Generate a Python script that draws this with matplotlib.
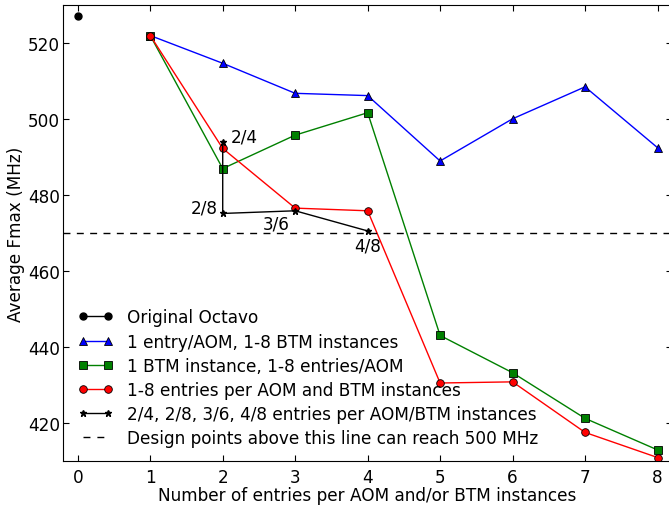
import matplotlib
matplotlib.use("Agg")
import matplotlib.pyplot as plt
from matplotlib.lines import Line2D
from matplotlib.legend_handler import HandlerLine2D

# values
entries = [1, 2, 3, 4, 5, 6, 7, 8]
original_x = [0]
original_fmax = [527.2]
one_entry_fmax = [522.0, 514.7, 506.8, 506.2, 489.0, 500.1, 508.5, 492.5]
one_btm_fmax = [522.0, 487.0, 495.8, 501.7, 443.1, 433.3, 421.3, 413.0]
both_fmax = [522.0, 492.3, 476.6, 475.9, 430.6, 430.9, 417.6, 411.0]
combo_x = [2, 2, 3, 4]
combo_fmax = [494.1, 475.2, 475.9, 470.6]
combo_labels = ["2/4", "2/8", "3/6", "4/8"]
target_fmax = 470

FS = 12.2

fig = plt.figure(figsize=(6.69, 5.10), dpi=100)
ax = fig.add_axes([0.0946, 0.0935, 0.9099, 0.8945])

ax.plot(original_x, original_fmax, color="black", marker="o", markersize=5,
        linewidth=1, label="Original Octavo")
ax.plot(entries, one_entry_fmax, color="blue", marker="^", markersize=5.5,
        markeredgecolor="black", markeredgewidth=0.6, linewidth=1,
        label="1 entry/AOM, 1-8 BTM instances")
ax.plot(entries, one_btm_fmax, color="green", marker="s", markersize=5.5,
        markeredgecolor="black", markeredgewidth=0.6, linewidth=1,
        label="1 BTM instance, 1-8 entries/AOM")
ax.plot(entries, both_fmax, color="red", marker="o", markersize=5.5,
        markeredgecolor="black", markeredgewidth=0.6, linewidth=1,
        label="1-8 entries per AOM and BTM instances")
ax.plot(combo_x, combo_fmax, color="black", marker="*", markersize=5,
        linewidth=1, label="2/4, 2/8, 3/6, 4/8 entries per AOM/BTM instances")
ax.axhline(target_fmax, color="black", linestyle="--", linewidth=1,
           dashes=(5, 4.6), label="Design points above this line can reach 500 MHz")

# labels next to the star points (offsets in points)
offsets = [(6, 3.5, "left"), (-3.5, 4, "right"), (-14, -9.5, "center"), (0, -10.5, "center")]
for x, y, lab, (dx, dy, ha) in zip(combo_x, combo_fmax, combo_labels, offsets):
    ax.annotate(lab, (x, y), xytext=(dx, dy), textcoords="offset points",
                ha=ha, va="center", fontsize=FS)

ax.set_xlim(-0.2, 8.2)
ax.set_ylim(410, 530)
ax.set_xticks(range(0, 9))
ax.set_yticks([420, 440, 460, 480, 500, 520])
ax.tick_params(direction="in", top=True, right=True, labelsize=FS, length=4)
ax.tick_params(axis="x", pad=4.5)
ax.tick_params(axis="y", pad=2.5)
ax.set_xlabel("Number of entries per AOM and/or BTM instances", fontsize=FS, labelpad=0)
ax.set_ylabel("Average Fmax (MHz)", fontsize=FS, labelpad=2)

leg = ax.legend(loc="lower left", bbox_to_anchor=(0.0215, 0.0167), frameon=False,
                fontsize=FS, numpoints=2, handlelength=1.45, handletextpad=1.15,
                labelspacing=0.36, borderaxespad=0,
                handler_map={Line2D: HandlerLine2D(marker_pad=0)})
leg.get_lines()[-1].set_dashes((5, 5))

fig.savefig("out.png", dpi=100)
